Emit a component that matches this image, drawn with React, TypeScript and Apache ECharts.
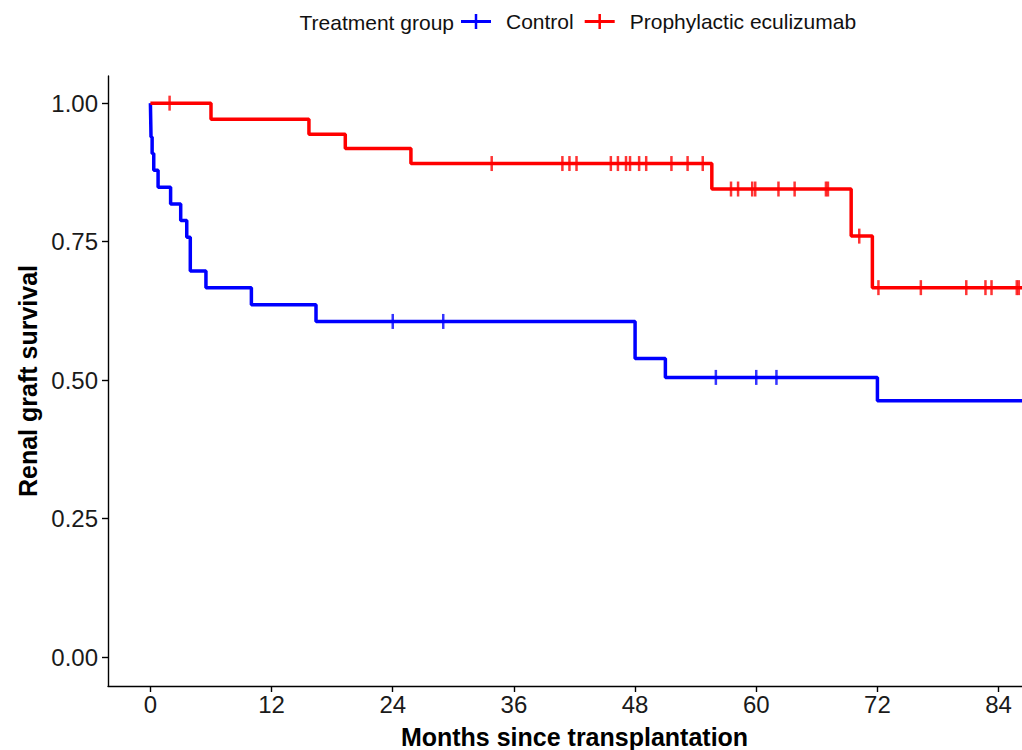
import React, { useEffect, useRef } from "react";
import * as echarts from "echarts";

const xTickValues = [0, 12, 24, 36, 48, 60, 72, 84];
const yTickValues = [0, 0.25, 0.5, 0.75, 1.0];

const groupNames = ["Control", "Prophylactic eculizumab"];

// Control group: event times (months) and survival after each event
const controlEventTimes = [0.03, 0.06, 0.17, 0.33, 0.76, 2.0, 3.0, 3.6, 3.95, 5.5, 10.0, 16.4, 48.0, 51.0, 72.0];
const controlSurvival = [0.970, 0.939, 0.909, 0.879, 0.848, 0.818, 0.788, 0.758, 0.697, 0.667, 0.636, 0.606, 0.539, 0.505, 0.463];
const controlCensorTimes = [24.0, 29.0, 56.0, 60.0, 62.0];
const controlFollowUpEnd = 88;

// Prophylactic eculizumab group
const ecuEventTimes = [6.0, 15.7, 19.3, 25.8, 55.6, 69.4, 71.5];
const ecuSurvival = [0.971, 0.944, 0.918, 0.891, 0.845, 0.760, 0.667];
const ecuCensorTimes = [
  1.9, 33.8, 40.8, 41.5, 42.2, 45.6, 46.3, 47.1, 47.5, 48.4, 49.1, 51.6, 53.2, 54.7,
  57.5, 58.2, 59.6, 59.9, 62.2, 63.8, 66.9, 67.1, 70.2, 72.1, 76.3, 80.8, 82.7, 83.3, 85.8, 86.0,
];
const ecuFollowUpEnd = 88;

const FONT = "'Liberation Sans', Arial, Helvetica, sans-serif";
const BLUE = "#0000FF";
const RED = "#FF0000";

function stepPoints(times: number[], surv: number[], end: number): number[][] {
  const pts: number[][] = [[0, 1]];
  let prev = 1;
  times.forEach((t, i) => {
    pts.push([t, prev]);
    pts.push([t, surv[i]]);
    prev = surv[i];
  });
  pts.push([end, prev]);
  return pts;
}

function survivalAt(times: number[], surv: number[], t: number): number {
  let s = 1;
  for (let i = 0; i < times.length; i++) {
    if (times[i] <= t) s = surv[i];
  }
  return s;
}

function censorPoints(censors: number[], times: number[], surv: number[]): number[][] {
  return censors.map((t) => [t, survivalAt(times, surv, t)]);
}

const plusIcon = "path://M0,6h30v3h-30z M13.75,0h2.5v15h-2.5z";

export default function App() {
  const ref = useRef<HTMLDivElement>(null);

  useEffect(() => {
    document.body.style.margin = "0";
    if (!ref.current) return;
    const chart = echarts.init(ref.current, null, { renderer: "svg" });

    const axisLineStyle = { color: "#000", width: 1.4 };

    const option: any = {
      animation: false,
      textStyle: { fontFamily: FONT },
      grid: {
        left: 108,
        right: -19,
        top: 76,
        bottom: 64,
        containLabel: false,
        outerBoundsMode: "none",
      },
      legend: {
        left: 461,
        top: 11,
        padding: 0,
        itemWidth: 30,
        itemHeight: 15,
        itemGap: 11,
        textStyle: { fontSize: 21, color: "#111", fontFamily: FONT, padding: [0, 0, 0, 10] },
        data: [
          { name: groupNames[0], icon: plusIcon, itemStyle: { color: BLUE } },
          { name: groupNames[1], icon: plusIcon, itemStyle: { color: RED } },
        ],
      },
      graphic: [
        {
          type: "text",
          x: 454,
          y: 22,
          style: {
            text: "Treatment group",
            fontSize: 21,
            fontFamily: FONT,
            fill: "#111",
            align: "right",
            verticalAlign: "middle",
          },
        },
      ],
      xAxis: {
        type: "value",
        min: -4.2,
        max: 88.2,
        splitLine: { show: false },
        axisLine: { show: true, onZero: false, lineStyle: axisLineStyle },
        axisTick: { show: true, length: 6, customValues: xTickValues, lineStyle: axisLineStyle },
        axisLabel: {
          customValues: xTickValues,
          fontSize: 24,
          color: "#1a1a1a",
          margin: 6,
          fontFamily: FONT,
        },
        name: "Months since transplantation",
        nameLocation: "middle",
        nameGap: 51,
        nameTextStyle: {
          fontSize: 25,
          fontWeight: "bold",
          color: "#000",
          fontFamily: FONT,
          verticalAlign: "middle",
        },
      },
      yAxis: {
        type: "value",
        min: -0.052,
        max: 1.049,
        splitLine: { show: false },
        axisLine: { show: true, onZero: false, lineStyle: axisLineStyle },
        axisTick: { show: true, length: 6, customValues: yTickValues, lineStyle: axisLineStyle },
        axisLabel: {
          customValues: yTickValues,
          fontSize: 24,
          color: "#1a1a1a",
          margin: 10,
          fontFamily: FONT,
          formatter: (v: number) => v.toFixed(2),
        },
        name: "Renal graft survival",
        nameLocation: "middle",
        nameGap: 79,
        nameTextStyle: {
          fontSize: 25,
          fontWeight: "bold",
          color: "#000",
          fontFamily: FONT,
          verticalAlign: "middle",
        },
      },
      series: [
        {
          name: groupNames[0],
          type: "line",
          data: stepPoints(controlEventTimes, controlSurvival, controlFollowUpEnd),
          showSymbol: false,
          symbol: "none",
          lineStyle: { color: BLUE, width: 3.5 },
          itemStyle: { color: BLUE },
          z: 2,
        },
        {
          name: groupNames[0],
          type: "scatter",
          data: censorPoints(controlCensorTimes, controlEventTimes, controlSurvival),
          symbol: "rect",
          symbolSize: [2.5, 15],
          itemStyle: { color: BLUE },
          z: 3,
        },
        {
          name: groupNames[1],
          type: "line",
          data: stepPoints(ecuEventTimes, ecuSurvival, ecuFollowUpEnd),
          showSymbol: false,
          symbol: "none",
          lineStyle: { color: RED, width: 3.5 },
          itemStyle: { color: RED },
          z: 4,
        },
        {
          name: groupNames[1],
          type: "scatter",
          data: censorPoints(ecuCensorTimes, ecuEventTimes, ecuSurvival),
          symbol: "rect",
          symbolSize: [2.5, 15],
          itemStyle: { color: RED },
          z: 5,
        },
      ],
    };

    chart.setOption(option);
    return () => chart.dispose();
  }, []);

  return <div ref={ref} style={{ width: 1022, height: 750 }} />;
}
